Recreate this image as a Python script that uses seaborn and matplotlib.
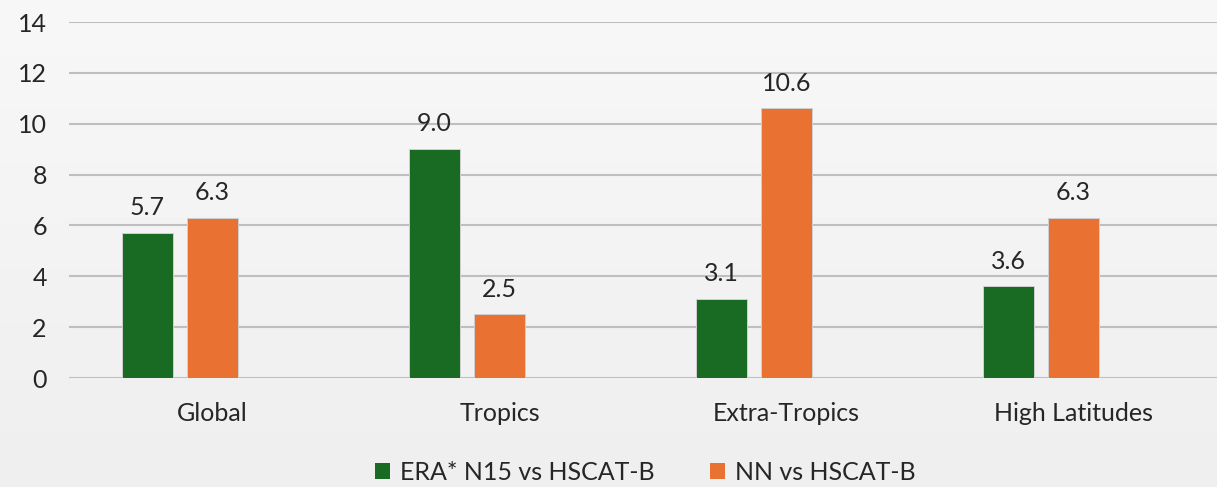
import numpy as np
import pandas as pd
import matplotlib
matplotlib.use("Agg")
import matplotlib.pyplot as plt
import seaborn as sns
from matplotlib.patches import Patch

# Regions on the x axis and the two comparison series
regions = ["Global", "Tropics", "Extra-Tropics", "High Latitudes"]
era_n15 = [5.7, 9.0, 3.1, 3.6]
nn = [6.3, 2.5, 10.6, 6.3]
series_names = ["ERA* N15 vs HSCAT-B", "NN vs HSCAT-B"]
y_ticks = [0, 2, 4, 6, 8, 10, 12, 14]

green = "#196B24"
orange = "#E97132"
text_col = "#262626"

df = pd.DataFrame({
    "region": regions * 3,
    "series": [series_names[0]] * 4 + [series_names[1]] * 4 + ["_blank"] * 4,
    "value": era_n15 + nn + [np.nan] * 4,
})

sns.set_theme(style="white")
plt.rcParams["font.family"] = ["Lato", "DejaVu Sans"]

fig = plt.figure(figsize=(12.17, 4.87), dpi=100)
fig.patch.set_facecolor("#F4F4F4")

# soft vertical background shading
bg = fig.add_axes([0, 0, 1, 1], zorder=-10)
grad = np.linspace(0, 1, 256).reshape(-1, 1)
bg.imshow(grad, aspect="auto", cmap=matplotlib.colors.LinearSegmentedColormap.from_list(
    "bgshade", ["#F8F8F8", "#EFEFEF"]), extent=[0, 1, 0, 1], origin="upper")
bg.axis("off")

ax = fig.add_axes([0.0567, 0.2238, 0.9433, 0.731])
ax.set_facecolor("none")

sns.barplot(
    data=df, x="region", y="value", hue="series",
    hue_order=series_names + ["_blank"],
    palette=[green, orange, "#FFFFFF"], saturation=1,
    width=0.68, gap=0.22, edgecolor="#D0D0D0", linewidth=0.7,
    errorbar=None, legend=False, ax=ax, zorder=3,
)

for cont, vals in zip(ax.containers[:2], [era_n15, nn]):
    ax.bar_label(cont, labels=[f"{v:.1f}" for v in vals], padding=10,
                 fontsize=18, color=text_col)

ax.set_ylim(0, 14)
ax.set_xlim(-0.5, 3.5)
ax.set_yticks(y_ticks)
ax.set_yticklabels([str(t) for t in y_ticks], fontsize=18, color=text_col)
ax.tick_params(axis="x", labelsize=18, labelcolor=text_col, pad=17, length=0)
ax.tick_params(axis="y", length=0, pad=16)
ax.set_xlabel("")
ax.set_ylabel("")
ax.grid(axis="y", color="#BFBFBF", linewidth=1.5, zorder=0)
ax.set_axisbelow(True)
for s in ax.spines.values():
    s.set_visible(False)

handles = [Patch(facecolor=green, edgecolor="none"),
           Patch(facecolor=orange, edgecolor="none")]
fig.legend(handles, series_names, loc="center", bbox_to_anchor=(0.53, 0.03),
           ncol=2, frameon=False, fontsize=18, handlelength=0.6, handleheight=0.6,
           handletextpad=0.4, columnspacing=2.2, labelcolor=text_col)

fig.savefig("out.png", dpi=100, facecolor=fig.get_facecolor())
